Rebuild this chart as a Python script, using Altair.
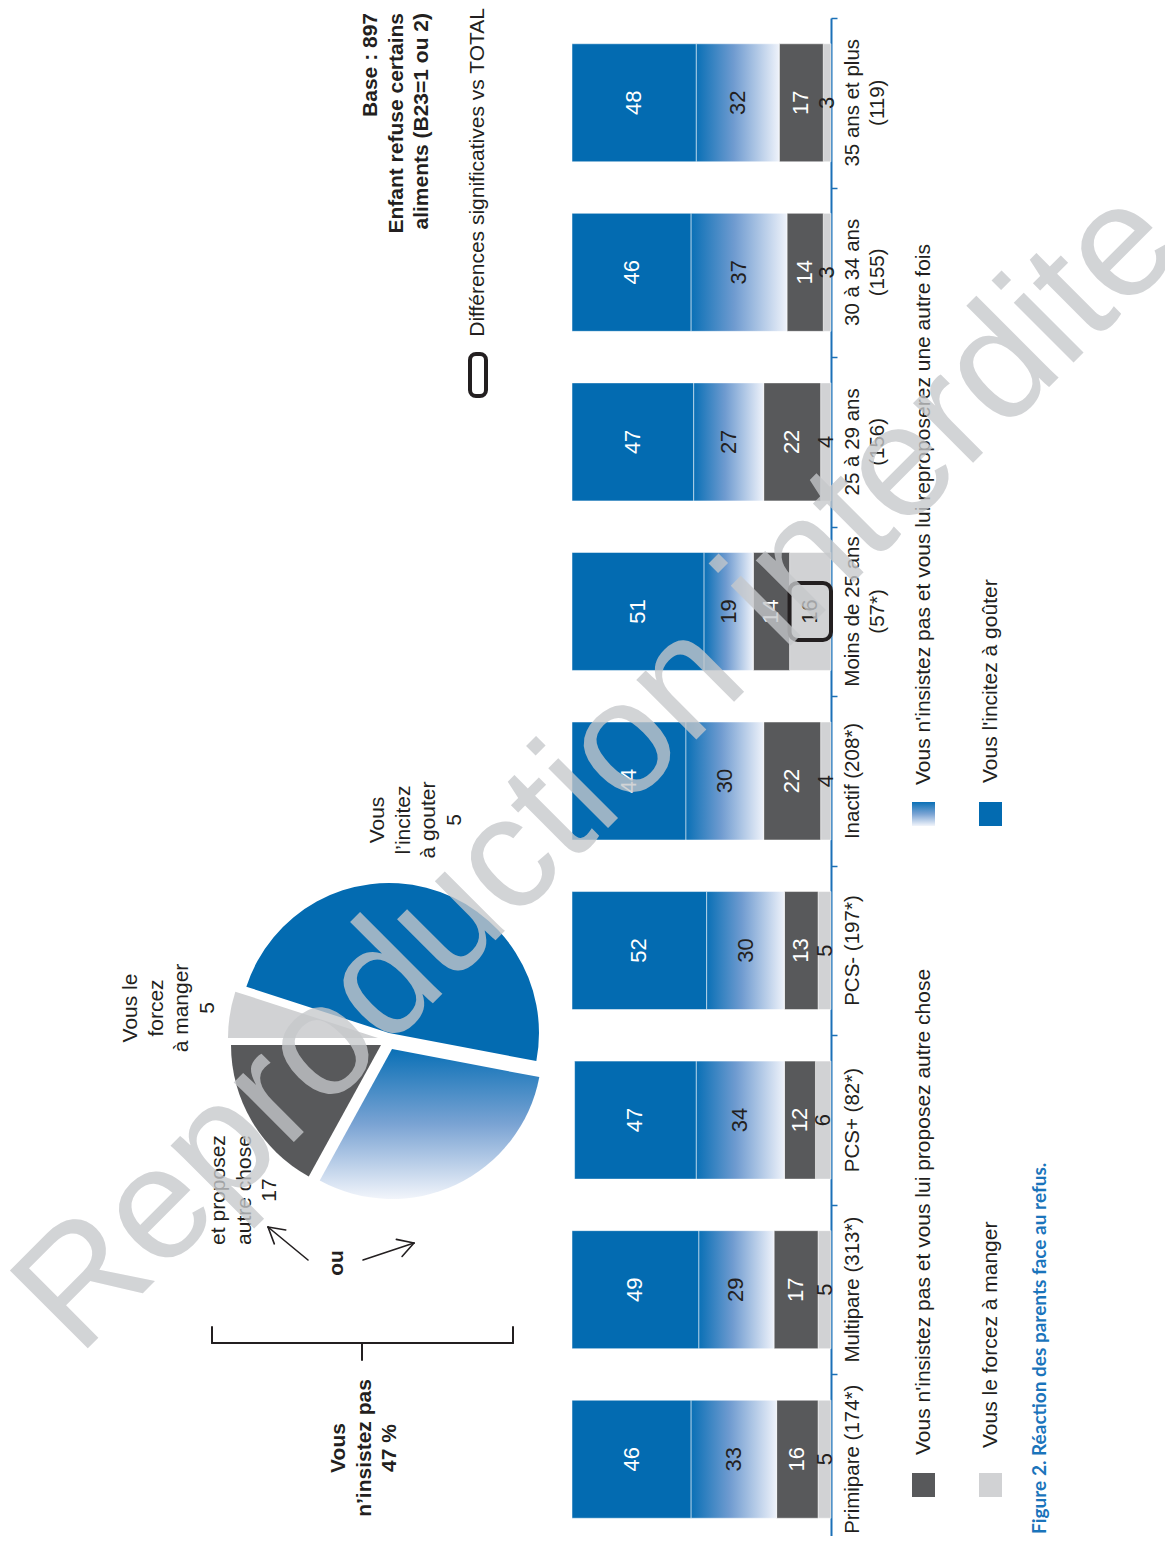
import math
import altair as alt
import pandas as pd

# ---------------- data ----------------
categories = ["Primipare (174*)", "Multipare (313*)", "PCS+ (82*)", "PCS- (197*)", "Inactif (208*)",
              "Moins de 25 ans\n(57*)", "25 à 29 ans\n(156)", "30 à 34 ans\n(155)", "35 ans et plus\n(119)"]
incitez = [46, 49, 47, 52, 44, 51, 47, 46, 48]
reproposerez = [33, 29, 34, 30, 30, 19, 27, 37, 32]
autre_chose = [16, 17, 12, 13, 22, 14, 22, 14, 17]
forcez = [5, 5, 6, 5, 4, 16, 4, 3, 3]
significatif = [("Moins de 25 ans\n(57*)", "forcez")]

series_keys = ["forcez", "autre", "repro", "incitez"]          # stacked from the axis outward
series_names = {
    "incitez": "Vous l'incitez à goûter",
    "repro": "Vous n'insistez pas et vous lui reproposerez une autre fois",
    "autre": "Vous n'insistez pas et vous lui proposez autre chose",
    "forcez": "Vous le forcez à manger",
}
pie_keys = ["incitez", "repro", "autre", "forcez"]
pie_values = [48, 30, 17, 5]

# ---------------- styles ----------------
BLUE = "#036bb1"
DARK = "#58595b"
LIGHT = "#d1d2d4"
INK = "#231f20"
AXIS = "#1b70b7"
FONT = "Liberation Sans"

grad_h = alt.LinearGradient(gradient="linear", x1=0, x2=1, y1=0, y2=0,
                            stops=[alt.GradientStop(color="#0a70b6", offset=0),
                                   alt.GradientStop(color="#6f9bd0", offset=0.45),
                                   alt.GradientStop(color="#eef2fa", offset=1)])
grad_v = alt.LinearGradient(gradient="linear", x1=0, x2=0, y1=0, y2=1,
                            stops=[alt.GradientStop(color="#0a70b6", offset=0),
                                   alt.GradientStop(color="#7aa3d3", offset=0.5),
                                   alt.GradientStop(color="#f2f5fb", offset=1)])

# ---------------- frames ----------------
vals = {"incitez": incitez, "repro": reproposerez, "autre": autre_chose, "forcez": forcez}
tcolors = {"incitez": "white", "repro": INK, "autre": "white", "forcez": INK}
rows = []
for i, c in enumerate(categories):
    acc = 0
    for k in series_keys:
        v = vals[k][i]
        rows.append({"cat": c, "key": k, "value": v, "x0": acc, "x1": acc + v,
                     "mid": acc + v / 2, "tcolor": tcolors[k],
                     "sig": (c, k) in significatif})
        acc += v
bars = pd.DataFrame(rows)
cats_df = pd.DataFrame({"cat": categories})

prow = []
acc = 0
for k, v in zip(pie_keys, pie_values):
    prow.append({"key": k, "t0": acc, "t1": acc + v})
    acc += v
pie = pd.DataFrame(prow)

one = pd.DataFrame({"a": [0]})

cat_order = categories[::-1]
yscale = alt.Scale(domain=cat_order, range=[10, 1536], paddingInner=0, paddingOuter=0)
yaxis = alt.Axis(orient="right", offset=-334, labels=False, title=None, grid=False,
                 domainColor=AXIS, domainWidth=2, tickColor=AXIS, tickSize=6,
                 tickWidth=1.5, tickBand="extent")
Y = alt.Y("cat:N", sort=cat_order, scale=yscale, axis=yaxis)
xscale = alt.Scale(domain=[0, 100], range=[823, 564], nice=False, zero=False)

layers = []

# stacked bars (solid)
layers.append(
    alt.Chart(bars).transform_filter(alt.datum.key != "repro")
    .mark_bar(height=118, stroke="white", strokeWidth=0.5)
    .encode(x=alt.X("x0:Q", scale=xscale, axis=None), x2="x1:Q", y=Y,
            color=alt.Color("key:N", scale=alt.Scale(domain=["incitez", "autre", "forcez"],
                                                    range=[BLUE, DARK, LIGHT]), legend=None))
)
# gradient segment
layers.append(
    alt.Chart(bars).transform_filter(alt.datum.key == "repro")
    .mark_bar(height=118, fill=grad_h, stroke="white", strokeWidth=0.5)
    .encode(x=alt.X("x0:Q", scale=xscale, axis=None), x2="x1:Q", y=Y)
)
# significance box
layers.append(
    alt.Chart(bars).transform_filter(alt.datum.sig == True)
    .mark_bar(height=57, fillOpacity=0, stroke=INK, strokeWidth=4, cornerRadius=8)
    .encode(x=alt.X("x0:Q", scale=xscale, axis=None), x2="x1:Q", y=Y)
)
# value labels
layers.append(
    alt.Chart(bars).mark_text(angle=270, align="center", baseline="middle", fontSize=22, font=FONT)
    .encode(x=alt.X("mid:Q", scale=xscale, axis=None), y=Y, text="value:Q",
            color=alt.Color("tcolor:N", scale=None))
)
# category labels
layers.append(
    alt.Chart(cats_df).mark_text(angle=270, align="center", baseline="top", fontSize=20.5,
                                 font=FONT, color=INK, lineBreak="\n", lineHeight=25)
    .encode(x=alt.value(835), y=Y, text="cat:N")
)

# pie
theta_start = math.radians(288)
tscale = alt.Scale(domain=[0, 100], range=[theta_start, theta_start + 2 * math.pi])
CX, CY, R = 377, 1033, 150
pie_style = {
    "incitez": (BLUE, 4, -8),
    "repro": (grad_v, 7, 8),
    "autre": (DARK, -4, 4),
    "forcez": (LIGHT, -7, -3),
}
for k in pie_keys:
    fill, dx, dy = pie_style[k]
    layers.append(
        alt.Chart(pie).transform_filter(alt.datum.key == k)
        .mark_arc(outerRadius=R, fill=fill)
        .encode(theta=alt.Theta("t0:Q", scale=tscale), theta2="t1:Q",
                x=alt.value(CX + dx), y=alt.value(CY + dy))
    )


def txt(text, x, y, size=21, bold=False, align="center", baseline="top", color=INK,
        angle=270, lh=25.5, font=FONT):
    return alt.Chart(one).mark_text(text=text, angle=angle, align=align, baseline=baseline,
                                    fontSize=size, fontWeight="bold" if bold else "normal",
                                    font=font, color=color, lineHeight=lh).encode(
        x=alt.value(x), y=alt.value(y))


def seg(x1, y1, x2, y2, w=2):
    return alt.Chart(one).mark_rule(color=INK, strokeWidth=w, strokeCap="round").encode(
        x=alt.value(x1), y=alt.value(y1), x2=alt.value(x2), y2=alt.value(y2))


def arrow(tail, tip, head=18):
    out = [seg(tail[0], tail[1], tip[0], tip[1], 1.6)]
    dx, dy = tail[0] - tip[0], tail[1] - tip[1]
    L = math.hypot(dx, dy)
    ux, uy = dx / L, dy / L
    for s in (1, -1):
        a = math.radians(30) * s
        vx = ux * math.cos(a) - uy * math.sin(a)
        vy = ux * math.sin(a) + uy * math.cos(a)
        out.append(seg(tip[0], tip[1], tip[0] + head * vx, tip[1] + head * vy, 1.6))
    return out


# pie annotations
layers.append(txt(["Vous le", "forcez", "à manger", "5"], 112, 1000))
layers.append(txt(["Vous", "l\u2019incitez", "à gouter", "5"], 359, 812))
layers.append(txt(["et proposez", "autre chose", "17"], 200, 1182))
layers.append(txt("ou", 329, 1255, bold=True, baseline="middle"))
layers += arrow((300, 1252), (260, 1219))
layers += arrow((355, 1252), (406, 1235))
# brace
layers.append(seg(204, 1319, 204, 1335))
layers.append(seg(204, 1335, 505, 1335))
layers.append(seg(505, 1319, 505, 1335))
layers.append(seg(354, 1335, 354, 1352))
layers.append(txt(["Vous", "n\u2019insistez pas", "47 %"], 320, 1440, bold=True))

# header
layers.append(txt(["Base : 897", "Enfant refuse certains", "aliments (B23=1 ou 2)"], 352, 5,
                  bold=True, align="right", lh=25.5))
layers.append(txt("Différences significatives vs TOTAL", 470, 0, align="right", baseline="middle"))
layers.append(
    alt.Chart(one).mark_rect(fillOpacity=0, stroke=INK, strokeWidth=4, cornerRadius=6)
    .encode(x=alt.value(462), x2=alt.value(478), y=alt.value(346), y2=alt.value(388))
)

# legend
leg = [("autre", DARK, 904, 1465, 1447), ("forcez", LIGHT, 971, 1465, 1440),
       ("repro", grad_v, 904, 794, 777), ("incitez", BLUE, 971, 794, 775)]
for k, fill, lx, ly, ty in leg:
    layers.append(
        alt.Chart(one).mark_rect(fill=fill)
        .encode(x=alt.value(lx), x2=alt.value(lx + 23), y=alt.value(ly), y2=alt.value(ly + 24))
    )
    layers.append(txt(series_names[k], lx + 11.5, ty, align="left", baseline="middle"))

# figure caption
layers.append(txt("Figure  2. Réaction des parents face au refus.", 1032, 1526, size=19, bold=True,
                  align="left", baseline="middle", color="#1a74bb", font="Lato"))

# watermark
layers.append(
    alt.Chart(one).mark_text(text="Reproduction interdite", angle=315, fontSize=160, font=FONT,
                             color="#c6c8cb", opacity=0.78, align="center", baseline="middle")
    .encode(x=alt.value(590), y=alt.value(762))
)

chart = alt.layer(*layers).properties(
    width=1157, height=1528, autosize=alt.AutoSizeParams(type="none"), padding=0
).configure_view(stroke=None)

chart.save("out.html", embed_options={"renderer": "svg", "actions": False})
